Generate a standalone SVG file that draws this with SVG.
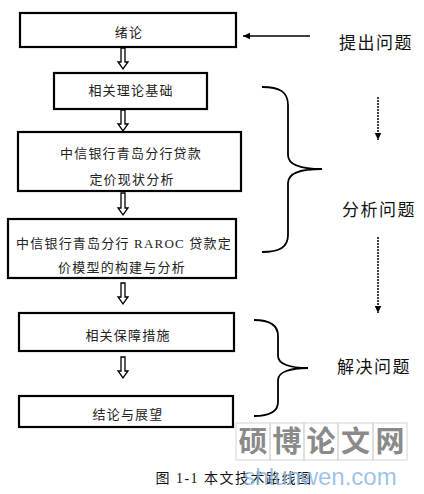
<svg xmlns="http://www.w3.org/2000/svg" width="424" height="494" viewBox="0 0 424 494">
<style>
.box{fill:#fff;stroke:#000;stroke-width:2.2}
.t{font-family:"Liberation Serif","Noto Sans CJK SC",serif;font-size:13px;letter-spacing:1.2px;fill:#222;text-anchor:middle}
.lab{font-family:"Noto Sans CJK SC",sans-serif;font-size:17px;letter-spacing:1.5px;fill:#111}
.ha{fill:#fff;stroke:#000;stroke-width:1.3;stroke-linejoin:miter}
.br{fill:none;stroke:#000;stroke-width:1.8}
.dot{stroke:#000;stroke-width:1.5;stroke-dasharray:2 1;fill:none}
.wm{fill:none;stroke:#d4d4d4;stroke-width:1}
.wmt{font-family:"Noto Sans CJK SC",sans-serif;font-weight:bold;font-size:29px;fill:#8a8a8a;text-anchor:middle}
</style>
<defs>
<marker id="ah" markerWidth="8" markerHeight="8" refX="7" refY="4" orient="auto" markerUnits="userSpaceOnUse">
<path d="M0,0.8 L7,4 L0,7.2 Z" fill="#000"/>
</marker>
</defs>
<rect width="424" height="494" fill="#fff"/>
<g id="node-xulun"><rect class="box" x="20" y="13" width="216" height="34"/><text class="t" x="129" y="37">绪论</text></g>
<g id="node-lilun"><rect class="box" x="54" y="73" width="153" height="36"/><text class="t" x="131" y="95">相关理论基础</text></g>
<g id="node-xianzhuang"><rect class="box" x="18" y="132" width="223" height="59"/><text class="t" x="131" y="158">中信银行青岛分行贷款</text><text class="t" x="132" y="184">定价现状分析</text></g>
<g id="node-raroc"><rect class="box" x="8" y="219" width="228" height="59"/><text class="t" x="124" y="248">中信银行青岛分行 RAROC 贷款定</text><text class="t" x="122" y="272">价模型的构建与分析</text></g>
<g id="node-baozhang"><rect class="box" x="19" y="313" width="215" height="38"/><text class="t" x="128" y="340">相关保障措施</text></g>
<g id="node-jielun"><rect class="box" x="19" y="396" width="214" height="31"/><text class="t" x="128" y="419">结论与展望</text></g>
<g id="label-tichu"><text class="lab" x="339" y="49">提出问题</text></g>
<g id="label-fenxi"><text class="lab" x="342" y="216">分析问题</text></g>
<g id="label-jiejue"><text class="lab" x="337" y="373">解决问题</text></g>
<g id="connectors">
<path class="ha" d="M121,48 L125,48 L125,62 L128,62 L123,69 L118,62 L121,62 Z"/>
<path class="ha" d="M121,110 L125,110 L125,124 L128,124 L123,131 L118,124 L121,124 Z"/>
<path class="ha" d="M121,193 L125,193 L125,208 L128,208 L123,215 L118,208 L121,208 Z"/>
<path class="ha" d="M121,283 L125,283 L125,297 L128,297 L123,304 L118,297 L121,297 Z"/>
<path class="ha" d="M121,357 L125,357 L125,371 L128,371 L123,378 L118,371 L121,371 Z"/>
<line x1="310" y1="36" x2="243" y2="36" stroke="#000" stroke-width="1.3" marker-end="url(#ah)"/>
<line class="dot" x1="378" y1="97" x2="378" y2="140" marker-end="url(#ah)"/>
<line class="dot" x1="378" y1="237" x2="378" y2="313" marker-end="url(#ah)"/>
<path class="br" d="M262,87 C280,87 288,92 288,105 L288,155 C288,164 300,169 322,169 C300,169 288,174 288,183 L288,235 C288,247 280,252 262,252"/>
<path class="br" d="M254,320 C270,320 278,325 278,336 L278,356 C278,364 290,368 308,368 C290,368 278,372 278,380 L278,402 C278,411 270,416 254,416"/>
</g>
<g id="watermark">
<rect class="wm" x="236" y="423" width="34" height="37"/><rect class="wm" x="270" y="423" width="34" height="37"/><rect class="wm" x="304" y="423" width="34" height="37"/><rect class="wm" x="338" y="423" width="35" height="37"/><rect class="wm" x="373" y="423" width="34" height="37"/>
<text class="wmt" x="253" y="452">硕</text><text class="wmt" x="287" y="452">博</text><text class="wmt" x="321" y="452">论</text><text class="wmt" x="355.5" y="452">文</text><text class="wmt" x="390" y="452">网</text>
</g>
<g id="caption"><text x="234" y="483" font-family="Liberation Serif,'Noto Sans CJK SC',serif" font-size="14" letter-spacing="1.5" text-anchor="middle" fill="#111">图 1-1 本文技术路线图</text></g>
<text x="320" y="485" font-family="Liberation Sans,Arial,sans-serif" font-size="24" fill="#8ab8e6" fill-opacity="0.85" text-anchor="middle">shlunwen.com</text>
</svg>
